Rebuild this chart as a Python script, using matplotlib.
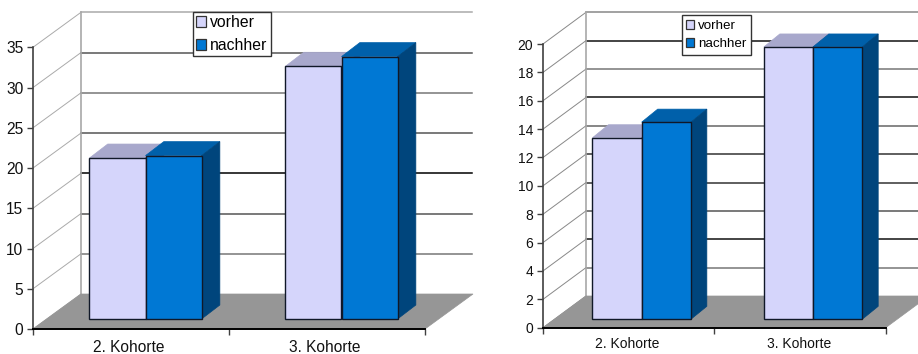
"""Two pseudo-3D grouped bar charts, cohort scores before and after."""

import matplotlib
matplotlib.use("Agg")
import matplotlib.pyplot as plt
from matplotlib.patches import Patch
from matplotlib.transforms import Affine2D

plt.rcParams["font.family"] = ["Liberation Sans", "DejaVu Sans"]

categories = ["2. Kohorte", "3. Kohorte"]
series_names = ["vorher", "nachher"]

left_vorher = [20.0, 31.4]
left_nachher = [20.3, 32.6]
left_ticks = [0, 5, 10, 15, 20, 25, 30, 35]

right_vorher = [12.8, 19.2]
right_nachher = [13.9, 19.2]
right_ticks = [0, 2, 4, 6, 8, 10, 12, 14, 16, 18, 20]

FIG_W, FIG_H = 918, 354
FRONT_COLORS = ["#d5d5fb", "#0078d4"]
TOP_COLORS = ["#a8a8cc", "#0060aa"]
SIDE_COLORS = ["#6a6a90", "#00457c"]
EDGE = "#101828"


def offset(ax, dx, dy):
    """Data transform shifted by a depth offset in pixels."""
    return ax.transData + Affine2D().translate(dx, dy)


def draw_box(ax, x0, x1, value, base, depth, color):
    """Draw one bar: front face through bar(), top and side as sheared faces."""
    front = offset(ax, *base)
    back = offset(ax, base[0] + depth[0], base[1] + depth[1])

    def pts(corners):
        # each corner: (x, y, on the back plane?)
        return [(back if b else front).transform((x, y)) for x, y, b in corners]

    inv = ax.transData.inverted()
    top = inv.transform(pts([(x0, value, 0), (x1, value, 0), (x1, value, 1), (x0, value, 1)]))
    side = inv.transform(pts([(x1, 0, 0), (x1, value, 0), (x1, value, 1), (x1, 0, 1)]))
    ax.fill(top[:, 0], top[:, 1], facecolor=TOP_COLORS[color], edgecolor=TOP_COLORS[color],
            linewidth=0.5, clip_on=False, zorder=4)
    ax.fill(side[:, 0], side[:, 1], facecolor=SIDE_COLORS[color], edgecolor=SIDE_COLORS[color],
            linewidth=0.5, clip_on=False, zorder=4)
    ax.bar((x0 + x1) / 2, value, width=x1 - x0, facecolor=FRONT_COLORS[color], edgecolor=EDGE,
           linewidth=1.0, transform=front, clip_on=False, zorder=5)


def draw_chart(box, ymax, ticks, vorher, nachher, wall, bar_base, bar_depth, bar_width,
               right_limit, tick_size, label_shift, legend_box, legend_size, legend_pads,
               grid_colors, slant_color):
    """Draw one chart; box is the front plane (left, right, top, bottom) in pixels."""
    left, right, top, bottom = box
    fig = plt.gcf()
    ax = fig.add_axes([left / FIG_W, 1 - bottom / FIG_H, (right - left) / FIG_W, (bottom - top) / FIG_H])
    ax.patch.set_visible(False)
    ax.set_xlim(0, 2)
    ax.set_ylim(0, ymax)
    fig.canvas.draw()

    wall_t = offset(ax, *wall)
    sx = wall[0] * 2 / (right - left)
    sy = wall[1] * ymax / (bottom - top)
    # slanted lines on the side wall, then the back wall grid
    for i, t in enumerate(ticks):
        ax.plot([0, sx], [t, t + sy], color=slant_color, lw=0.7, clip_on=False, zorder=1)
        if t > 0:
            x_end = 2 + (right_limit - right - wall[0]) * 2 / (right - left)
            ax.plot([0, x_end], [t, t], color=grid_colors[i], lw=1.1,
                    transform=wall_t, clip_on=False, zorder=1)
    ax.plot([0, 0], [0, ymax], color="#a8a8a8", lw=1.2, transform=wall_t, clip_on=False, zorder=1)

    # grey floor
    ax.fill([0, sx, 2 + sx, 2], [0, sy, sy, 0], facecolor="#969696", edgecolor="#969696",
            linewidth=0.5, clip_on=False, zorder=2)

    for i in range(len(categories)):
        x_mid = i + 0.5
        draw_box(ax, x_mid - bar_width, x_mid, vorher[i], bar_base, bar_depth, 0)
        draw_box(ax, x_mid, x_mid + bar_width, nachher[i], bar_base, bar_depth, 1)

    for side in ("top", "right"):
        ax.spines[side].set_visible(False)
    ax.spines["left"].set_color("#404040")
    ax.spines["left"].set_linewidth(1.2)
    ax.spines["bottom"].set_color("#000000")
    ax.spines["bottom"].set_linewidth(1.4)
    ax.spines["left"].set_zorder(3)
    ax.spines["bottom"].set_zorder(3)

    ax.set_yticks(ticks)
    ax.set_xticks([0, 1, 2])
    ax.set_xticks([0.5, 1.5], labels=categories, minor=True)
    ax.set_xticklabels([])
    ax.tick_params(axis="y", length=4, width=1.0, color="#404040", labelsize=tick_size,
                   pad=3, labelcolor="#111111")
    ax.tick_params(axis="x", which="major", length=4, width=1.0, color="#404040")
    ax.tick_params(axis="x", which="minor", length=0, labelsize=tick_size, pad=label_shift[1],
                   labelcolor="#111111")
    for label in ax.get_xticklabels(minor=True):
        label.set_transform(label.get_transform() + Affine2D().translate(label_shift[0], 0))

    handles = [Patch(facecolor=FRONT_COLORS[i], edgecolor="#333333", linewidth=0.9) for i in range(2)]
    x0, y0 = legend_box
    handle_len, text_pad, label_gap, border = legend_pads
    leg = ax.legend(handles, series_names, loc="upper left",
                    bbox_to_anchor=(x0 / FIG_W, 1 - y0 / FIG_H), bbox_transform=fig.transFigure,
                    fontsize=legend_size, fancybox=False, framealpha=1, edgecolor="#333333",
                    handlelength=handle_len, handleheight=handle_len, handletextpad=text_pad,
                    labelspacing=label_gap, borderpad=border, borderaxespad=0)
    leg.get_frame().set_linewidth(1.0)
    leg.set_zorder(10)


def main():
    fig = plt.figure(figsize=(FIG_W / 100, FIG_H / 100), dpi=100)

    # line shades per tick, bottom to top
    left_greys = ["#808080", "#777777", "#555555", "#000000", "#555555", "#777777", "#555555", "#aaaaaa"]
    right_greys = ["#808080", "#777777", "#111111", "#555555", "#333333", "#333333", "#666666",
                   "#111111", "#777777", "#111111", "#888888"]

    draw_chart((33, 425, 47.3, 329), 35, left_ticks, left_vorher, left_nachher,
               wall=(48, 35), bar_base=(14.5, 10), bar_depth=(18.3, 14), bar_width=0.286,
               right_limit=472, tick_size=11.2, label_shift=(-2, 8), legend_box=(193, 12),
               legend_size=11.3, legend_pads=(0.65, 0.25, 0.5, 0.2),
               grid_colors=left_greys, slant_color="#aaaaaa")
    draw_chart((543, 885.7, 44, 327.7), 20, right_ticks, right_vorher, right_nachher,
               wall=(43, 31.7), bar_base=(13, 8.4), bar_depth=(16, 13), bar_width=0.287,
               right_limit=918, tick_size=10, label_shift=(-1, 7), legend_box=(681.7, 15.3),
               legend_size=9.6, legend_pads=(0.6, 0.3, 0.45, 0.35),
               grid_colors=right_greys, slant_color="#888888")

    fig.savefig("out.png", dpi=100)


if __name__ == "__main__":
    main()
